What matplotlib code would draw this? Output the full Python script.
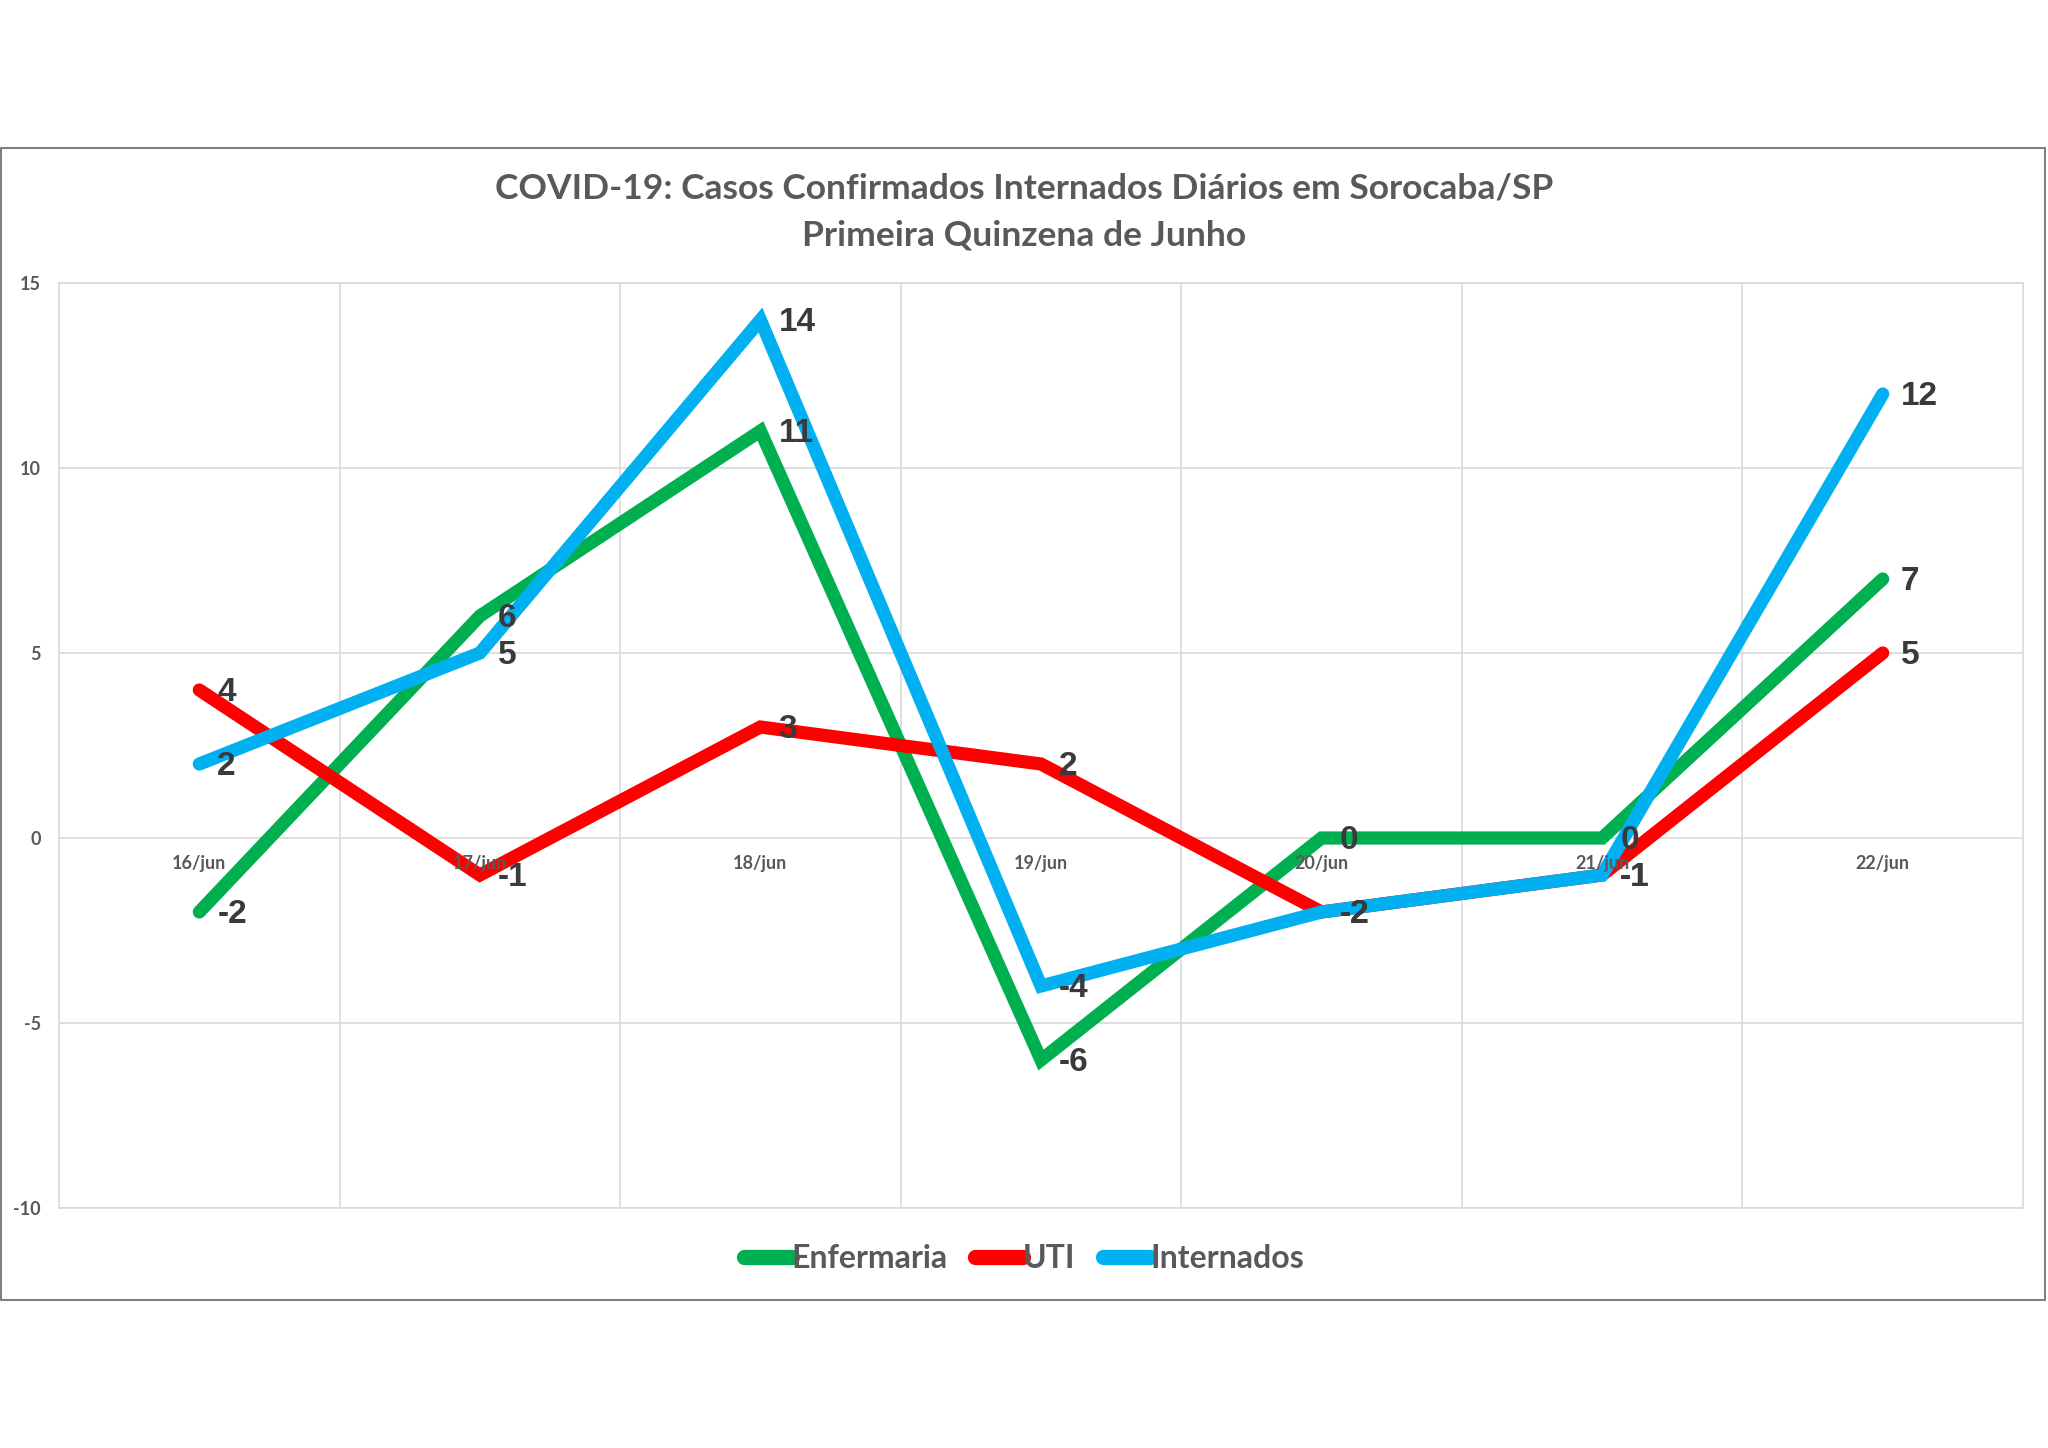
import numpy as np
import matplotlib.pyplot as plt
from matplotlib.patches import Rectangle

plt.rcParams['axes.unicode_minus'] = False

# dados
dias = ['16/jun', '17/jun', '18/jun', '19/jun', '20/jun', '21/jun', '22/jun']
enfermaria = [-2, 6, 11, -6, 0, 0, 7]
uti = [4, -1, 3, 2, -2, -1, 5]
internados = [2, 5, 14, -4, -2, -1, 12]

series = [
    ('Enfermaria', enfermaria, '#00B050'),
    ('UTI', uti, '#FF0000'),
    ('Internados', internados, '#00B0F0'),
]

cinza = '#595959'
grade = '#D9D9D9'

fig = plt.figure(figsize=(20.48, 14.48), dpi=100)
ax = fig.add_axes([59 / 2048, 1 - 1208 / 1448, (2023 - 59) / 2048, (1208 - 283) / 1448])

x = np.arange(len(dias))
for nome, valores, cor in series:
    ax.plot(x, valores, color=cor, lw=9.5, solid_capstyle='round',
            solid_joinstyle='miter', label=nome, zorder=3)

# rótulos de dados
for nome, valores, cor in series:
    for xi, v in zip(x, valores):
        ax.annotate(str(v), (xi, v), xytext=(13, -2), textcoords='offset points',
                    ha='left', va='center', fontsize=24, fontweight='bold',
                    family='Liberation Sans', color='#3A3A3A', zorder=5)

ax.set_xlim(-0.5, len(dias) - 0.5)
ax.set_ylim(-10, 15)
ax.set_yticks([-10, -5, 0, 5, 10, 15])
ax.set_xticks(np.arange(0.5, len(dias) - 0.5, 1))
ax.set_xticklabels([])
ax.tick_params(length=0)
ax.tick_params(axis='y', labelsize=13, labelcolor=cinza, pad=13)
for lb in ax.get_yticklabels():
    lb.set_family('Lato')
    lb.set_fontweight('bold')
ax.grid(True, color=grade, lw=1.2, zorder=0)
for s in ax.spines.values():
    s.set_color(grade)
    s.set_linewidth(1.2)

# rótulos de categoria sobre o eixo zero
for xi, d in zip(x, dias):
    ax.annotate(d, (xi, 0), xytext=(0, -18), textcoords='offset points',
                ha='center', va='center', fontsize=13, color=cinza,
                family='Lato', fontweight='bold', zorder=4)

fig.text(0.5, 1 - 189 / 1448, 'COVID-19: Casos Confirmados Internados Diários em Sorocaba/SP',
         ha='center', va='center', fontsize=25.5, fontweight='bold', color=cinza, family='Lato')
fig.text(0.5, 1 - 236 / 1448, 'Primeira Quinzena de Junho',
         ha='center', va='center', fontsize=25.5, fontweight='bold', color=cinza, family='Lato')

leg = fig.legend(loc='center', bbox_to_anchor=(0.5, 1 - 1259 / 1448), ncol=3, frameon=False,
                 handlelength=1.5, handletextpad=0.0, columnspacing=0.85,
                 prop={'family': 'Lato', 'weight': 'bold', 'size': 23})
for t in leg.get_texts():
    t.set_color(cinza)
for h in leg.legend_handles:
    h.set_linewidth(11)

fig.patches.append(Rectangle((0.0005, 1 - 1300 / 1448), 0.998, (1300 - 148) / 1448,
                             transform=fig.transFigure, fill=False, edgecolor='#808080', lw=1.5))

fig.savefig('out.png', dpi=100)
